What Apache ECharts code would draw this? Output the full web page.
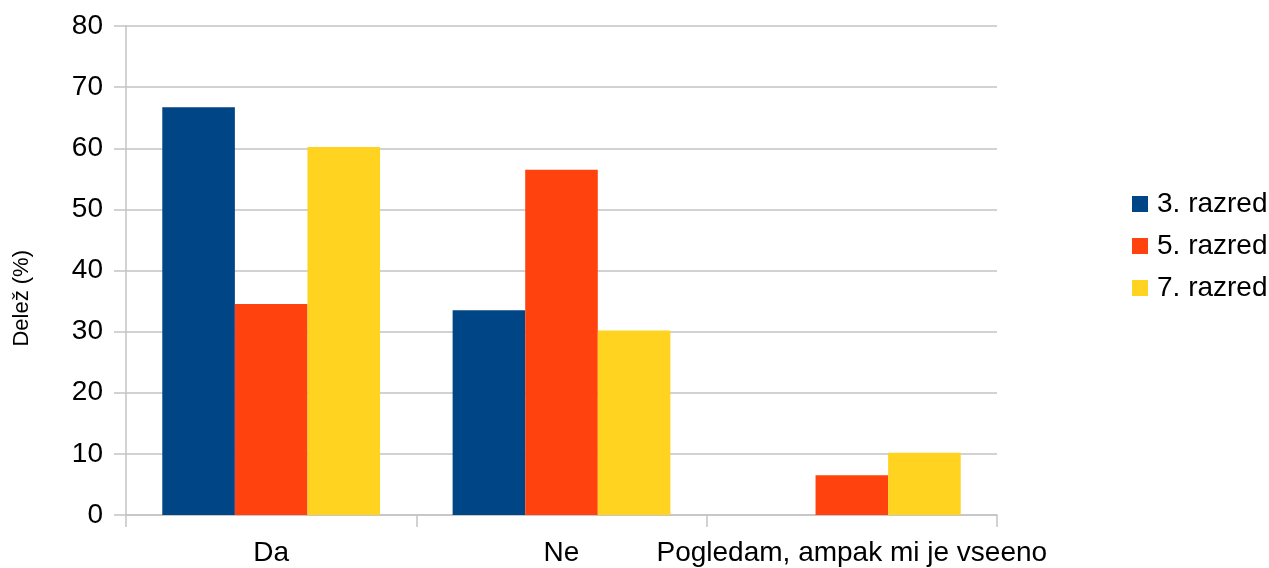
<!DOCTYPE html>
<html>
<head>
<meta charset="utf-8">
<script src="https://cdn.jsdelivr.net/npm/echarts@6/dist/echarts.min.js"></script>
<style>
  html, body { margin: 0; padding: 0; background: #ffffff; }
  #chart { width: 1269px; height: 568px; }
</style>
</head>
<body>
<div id="chart"></div>
<script>
// Answer categories
const categories = ['Da', 'Ne', 'Pogledam, ampak mi je vseeno'];

// Share of pupils (%) per grade
const grade3 = [66.7, 33.5, 0];
const grade5 = [34.5, 56.5, 6.5];
const grade7 = [60.2, 30.2, 10.2];

const seriesNames = ['3. razred', '5. razred', '7. razred'];
const colors = ['#004586', '#ff420e', '#ffd320'];

// Value axis ticks
const yMin = 0, yMax = 80, yStep = 10;

const font = 'Liberation Sans, Arial, sans-serif';
const gridColor = '#c3c3c3';

const chart = echarts.init(document.getElementById('chart'), null, { renderer: 'canvas' });

chart.setOption({
  animation: false,
  backgroundColor: '#ffffff',
  color: colors,
  grid: { left: 126, right: 272, top: 26, bottom: 53, containLabel: false },
  legend: {
    orient: 'vertical',
    left: 1127,
    top: 185,
    itemWidth: 16,
    itemHeight: 16,
    itemGap: 14,
    icon: 'rect',
    textStyle: { fontFamily: font, fontSize: 28, color: '#000000', padding: [0, 0, 0, 4] },
    data: seriesNames
  },
  xAxis: {
    type: 'category',
    data: categories,
    axisLine: { show: true, lineStyle: { color: gridColor, width: 1.5 } },
    axisTick: { show: true, length: 12, alignWithLabel: false, lineStyle: { color: gridColor, width: 1.5 } },
    axisLabel: { fontFamily: font, fontSize: 28, color: '#000000', margin: 24, interval: 0 },
    splitLine: { show: false }
  },
  yAxis: {
    type: 'value',
    min: yMin,
    max: yMax,
    interval: yStep,
    axisLine: { show: true, lineStyle: { color: gridColor, width: 1.5 } },
    axisTick: { show: true, length: 12, lineStyle: { color: gridColor, width: 1.5 } },
    axisLabel: { fontFamily: font, fontSize: 28, color: '#000000', margin: 23 },
    splitLine: { show: true, lineStyle: { color: gridColor, width: 1.5 } }
  },
  graphic: [{
    type: 'text',
    left: 11,
    top: 250,
    rotation: Math.PI / 2,
    style: {
      text: 'Delež (%)',
      fontFamily: font,
      fontSize: 22,
      fill: '#000000'
    }
  }],
  series: [
    { name: seriesNames[0], type: 'bar', data: grade3, barGap: '0%', barCategoryGap: '25%' },
    { name: seriesNames[1], type: 'bar', data: grade5, barGap: '0%', barCategoryGap: '25%' },
    { name: seriesNames[2], type: 'bar', data: grade7, barGap: '0%', barCategoryGap: '25%' }
  ]
});
</script>
</body>
</html>
